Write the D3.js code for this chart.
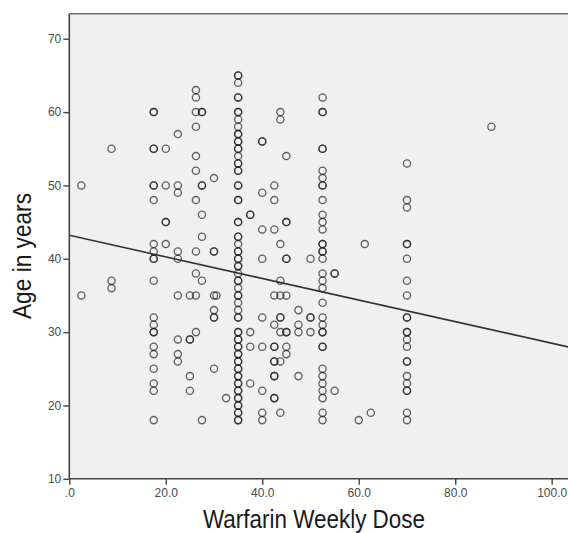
<!DOCTYPE html>
<html>
<head>
<meta charset="utf-8">
<script src="https://cdnjs.cloudflare.com/ajax/libs/d3/7.8.5/d3.min.js"></script>
<style>
  body { margin: 0; background: #fff; overflow: hidden; }
  svg { display: block; }
  .tick text { font-family: "Liberation Sans", Arial, sans-serif; font-size: 12px; fill: #4a4a4a; }
  .title { font-family: "Liberation Sans Narrow", "Arial Narrow", "Liberation Sans", sans-serif; font-size: 26px; fill: #1a1a1a; }
</style>
</head>
<body>
<div id="viz"></div>
<script>
// dose levels (x) and the ages recorded at each dose (y); repeats = darker overlaps
var doseLevels = [2.5, 8.75, 17.5, 20, 22.5, 25, 26.25, 27.5, 30, 30.5, 32.5, 35,
                  37.5, 40, 42.5, 43.75, 45, 47.5, 50, 52.5, 55, 60, 61.25, 62.5, 70, 87.5];

var agesAtDose = [
  [50, 35],
  [55, 37, 36],
  [60, 60, 55, 55, 50, 50, 48, 42, 41, 40, 40, 37, 32, 31, 30, 30, 28, 27, 25, 23, 22, 18],
  [55, 50, 45, 45, 42],
  [57, 50, 49, 41, 40, 35, 29, 27, 26],
  [35, 29, 29, 24, 22],
  [63, 62, 60, 58, 54, 52, 48, 41, 38, 35, 30],
  [60, 60, 50, 50, 46, 43, 37, 18],
  [51, 41, 41, 35, 33, 32, 32, 25],
  [35],
  [21],
  [65, 65, 64, 62, 62, 60, 60, 59, 58, 57, 57, 56, 56, 55, 55, 54, 53, 53, 52, 52, 50, 50, 48, 48,
   45, 45, 43, 43, 42, 41, 41, 40, 40, 39, 39, 38, 37, 37, 36, 35, 35, 34, 33, 32, 32, 30, 30,
   29, 29, 28, 28, 27, 27, 26, 26, 25, 25, 24, 24, 23, 23, 22, 22, 21, 21, 20, 20, 19, 19, 18, 18],
  [46, 46, 30, 28, 23],
  [56, 56, 49, 44, 40, 32, 28, 22, 19, 18],
  [50, 48, 44, 35, 31, 28, 28, 26, 26, 24, 24, 21, 21],
  [60, 59, 42, 37, 35, 32, 32, 30, 26, 19],
  [54, 45, 45, 40, 40, 35, 30, 30, 28, 27],
  [33, 31, 30, 24],
  [40, 32, 32, 30],
  [62, 60, 60, 55, 55, 52, 51, 50, 50, 48, 46, 45, 44, 42, 42, 41, 41, 40, 38, 37, 36, 34, 32,
   31, 30, 30, 28, 28, 25, 24, 23, 22, 21, 19, 18],
  [38, 38, 22],
  [18],
  [42],
  [19],
  [53, 48, 47, 42, 42, 40, 37, 35, 32, 32, 30, 30, 29, 28, 26, 26, 24, 23, 22, 22, 19, 18],
  [58]
];

// fitted regression line, read at both ends of the x range
var fitDose = [0, 104];
var fitAge = [43.2, 27.9];

var xTicks = [0, 20, 40, 60, 80, 100];
var yTicks = [10, 20, 30, 40, 50, 60, 70];

var width = 568,
  height = 533;

var plotLeft = 69.3, plotTop = 13.8, plotBottom = 478.8;

var x = d3.scaleLinear().domain([0, 104]).range([plotLeft, plotLeft + 104 * 4.824]);
var y = d3.scaleLinear().domain([10, 73.4]).range([plotBottom, plotTop]);

var points = [];
doseLevels.forEach(function(d, i) {
  agesAtDose[i].forEach(function(a) { points.push({dose: d, age: a}); });
});

var svg = d3.select("#viz").append("svg")
  .attr("width", width)
  .attr("height", height);

svg.append("rect")
  .attr("x", plotLeft)
  .attr("y", plotTop)
  .attr("width", width - plotLeft)
  .attr("height", plotBottom - plotTop)
  .attr("fill", "#f0f0f0");

// top frame line
svg.append("line")
  .attr("x1", plotLeft).attr("x2", width)
  .attr("y1", plotTop).attr("y2", plotTop)
  .attr("stroke", "#6e6e6e")
  .attr("stroke-width", 1.5);

svg.append("g")
  .attr("class", "dots")
  .selectAll("circle")
  .data(points)
  .enter().append("circle")
  .attr("cx", function(d) { return x(d.dose); })
  .attr("cy", function(d) { return y(d.age); })
  .attr("r", 3.6)
  .attr("fill", "none")
  .attr("stroke", "#1e1e1e")
  .attr("stroke-opacity", 0.68)
  .attr("stroke-width", 1.35);

svg.append("line")
  .attr("x1", x(fitDose[0])).attr("y1", y(fitAge[0]))
  .attr("x2", x(fitDose[1])).attr("y2", y(fitAge[1]))
  .attr("stroke", "#333")
  .attr("stroke-width", 1.6);

var xAxis = d3.axisBottom(x)
  .tickValues(xTicks)
  .tickSize(6)
  .tickFormat(function(d) { return d === 0 ? ".0" : d3.format(".1f")(d); });

var gx = svg.append("g")
  .attr("transform", "translate(0," + plotBottom + ")")
  .call(xAxis);
gx.select(".domain").attr("d", "M" + plotLeft + ",0H" + width).attr("stroke", "#444").attr("stroke-width", 1.6);
gx.selectAll(".tick line").attr("stroke", "#444").attr("stroke-width", 1.4);
gx.selectAll(".tick text").attr("y", 10);

var yAxis = d3.axisLeft(y)
  .tickValues(yTicks)
  .tickSize(6);

var gy = svg.append("g")
  .attr("transform", "translate(" + plotLeft + ",0)")
  .call(yAxis);
gy.select(".domain").attr("d", "M0," + plotTop + "V" + plotBottom).attr("stroke", "#444").attr("stroke-width", 1.6);
gy.selectAll(".tick line").attr("stroke", "#444").attr("stroke-width", 1.4);
gy.selectAll(".tick text").attr("x", -8);

svg.append("text")
  .attr("class", "title")
  .attr("x", 314)
  .attr("y", 528)
  .attr("text-anchor", "middle")
  .attr("textLength", 222)
  .attr("lengthAdjust", "spacingAndGlyphs")
  .text("Warfarin Weekly Dose");

svg.append("text")
  .attr("class", "title")
  .attr("transform", "translate(31,256) rotate(-90)")
  .attr("text-anchor", "middle")
  .attr("textLength", 126)
  .attr("lengthAdjust", "spacingAndGlyphs")
  .text("Age in years");
</script>
</body>
</html>
